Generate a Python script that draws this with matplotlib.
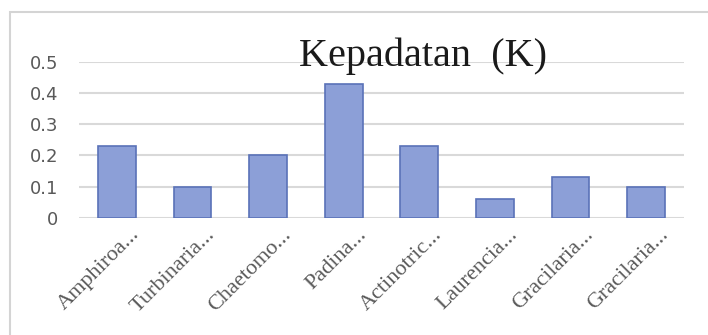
import matplotlib
matplotlib.use("Agg")
import matplotlib.pyplot as plt
from matplotlib.patches import Rectangle
from matplotlib.transforms import ScaledTranslation

categories = ["Amphiroa...", "Turbinaria...", "Chaetomo...", "Padina...",
              "Actinotric...", "Laurencia...", "Gracilaria...", "Gracilaria..."]
values = [0.23, 0.10, 0.20, 0.43, 0.23, 0.06, 0.13, 0.10]
yticks = [0, 0.1, 0.2, 0.3, 0.4, 0.5]
ytick_labels = ["0", "0.1", "0.2", "0.3", "0.4", "0.5"]
title = "Kepadatan  (K)"

W, H = 708, 335
fig = plt.figure(figsize=(W / 100, H / 100), dpi=100)
fig.patch.set_facecolor("white")

# outer chart border (light gray), partly cut off
fig.patches.append(Rectangle((10 / W, -0.1), 1.2, 1 - 12 / H + 0.1,
                             transform=fig.transFigure, fill=False,
                             edgecolor="#d4d4d4", linewidth=1.5, zorder=0))

ax = fig.add_axes([79 / W, 1 - 218 / H, (684 - 79) / W, (218 - 61.7) / H])
x = list(range(len(categories)))
ax.bar(x, values, width=0.5, color="#8c9fd7", edgecolor="#5a72b8",
       linewidth=1.2, zorder=3)
ax.set_xlim(-0.5, len(categories) - 0.5)
ax.set_ylim(0, 0.5)
ax.set_yticks(yticks)
ax.set_yticklabels(ytick_labels, fontsize=13, color="#595959",
                   family="DejaVu Sans")
ax.grid(axis="y", color="#d9d9d9", linewidth=1.5, zorder=0)
ax.set_axisbelow(True)
for s in ax.spines.values():
    s.set_visible(False)
ax.tick_params(axis="both", length=0)
ax.tick_params(axis="y", pad=15)
ax.set_xticks(x)
ax.set_xticklabels(categories, rotation=45, ha="right", va="center",
                   rotation_mode="anchor",
                   fontsize=16, color="#595959", family="Liberation Serif")
ax.tick_params(axis="x", pad=10)
off = ScaledTranslation(20 / 100, 0, fig.dpi_scale_trans)
for lbl in ax.get_xticklabels():
    lbl.set_transform(lbl.get_transform() + off)

fig.text(423 / W, 1 - 66 / H, title, ha="center", va="baseline",
         fontsize=29, family="Liberation Serif", color="#1a1a1a", zorder=5)

fig.savefig("out.png", dpi=100, facecolor="white")
